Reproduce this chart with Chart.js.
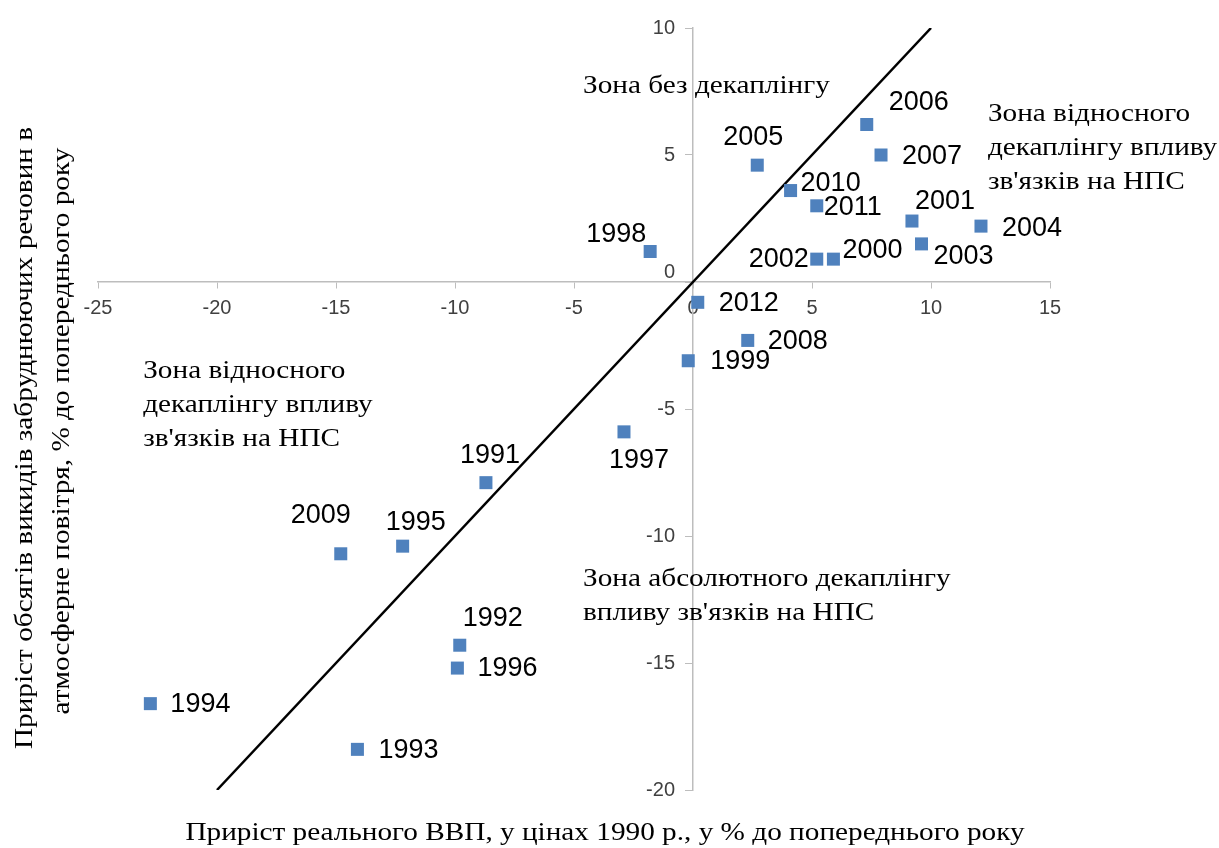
<!DOCTYPE html>
<html>
<head>
<meta charset="utf-8">
<script src="https://cdn.jsdelivr.net/npm/chart.js@4.4.1/dist/chart.umd.min.js"></script>
<style>
html,body{margin:0;padding:0;background:#fff;}
#wrap{width:1219px;height:848px;position:relative;}
</style>
</head>
<body>
<div id="wrap"><canvas id="c" width="1219" height="848"></canvas></div>
<script>
// ---- data ----
const years = ['1991','1992','1993','1994','1995','1996','1997','1998','1999','2000','2001','2002','2003','2004','2005','2006','2007','2008','2009','2010','2011','2012'];
const gdpGrowth = [-8.7,-9.8,-14.1,-22.8,-12.2,-9.9,-2.9,-1.8,-0.2,5.9,9.2,5.2,9.6,12.1,2.7,7.3,7.9,2.3,-14.8,4.1,5.2,0.2];
const emissionGrowth = [-7.9,-14.3,-18.4,-16.6,-10.4,-15.2,-5.9,1.2,-3.1,0.9,2.4,0.9,1.5,2.2,4.6,6.2,5.0,-2.3,-10.7,3.6,3.0,-0.8];
const lineX = [-20, 10];
const lineY = [-20, 10];
const xTitle = 'Приріст реального ВВП, у цінах 1990 р., у % до попереднього року';
const yTitle = ['Приріст обсягів викидів забруднюючих речовин в', 'атмосферне повітря, % до попереднього року'];
const zoneText = [
  ['Зона без декаплінгу'],
  ['Зона відносного', 'декаплінгу впливу', "зв'язків на НПС"],
  ['Зона відносного', 'декаплінгу впливу', "зв'язків на НПС"],
  ['Зона абсолютного декаплінгу', "впливу зв'язків на НПС"]
];
// anchor of each zone text block, in axis units
const zoneAnchorX = [-4.62, 12.39, -23.1, -4.62];
const zoneAnchorY = [7.44, 6.34, -3.78, -11.97];

// label placement (pixel offsets of label left edge / middle from the point)
const labelOffsets = {
  '1991':[-26,-27],'1992':[3,-27],'1993':[21,1],'1994':[20,1],'1995':[-17,-24],'1996':[20,0],
  '1997':[-15,29],'1998':[-64,-17],'1999':[22,1],'2000':[9,-9],'2001':[3,-19],'2002':[-68,0],
  '2003':[12,13],'2004':[21,2],'2005':[-34,-28],'2006':[22,-22],'2007':[21,2],'2008':[20,1],
  '2009':[-50,-38],'2010':[10,-7],'2011':[7,2],'2012':[21,1]
};

const points = years.map((yr, i) => ({x: gdpGrowth[i], y: emissionGrowth[i]}));
const linePts = lineX.map((v, i) => ({x: v, y: lineY[i]}));

const SERIF = '26px "Liberation Serif", "Times New Roman", serif';
const STRETCH = 1.125;
const TICKFONT = '20px "Liberation Sans", Arial, sans-serif';

function stretchedText(ctx, t, x, y, align) {
  ctx.save();
  ctx.translate(x, y);
  ctx.scale(STRETCH, 1);
  ctx.textAlign = align;
  ctx.fillText(t, 0, 0);
  ctx.restore();
}

const annotPlugin = {
  id: 'annot',
  afterDatasetsDraw(chart) {
    const ctx = chart.ctx;
    const xs = chart.scales.x, ys = chart.scales.y;
    const axisX = xs.getPixelForValue(0);
    ctx.save();
    // y tick labels
    ctx.fillStyle = '#404040';
    ctx.font = TICKFONT;
    ctx.textAlign = 'right';
    ctx.textBaseline = 'middle';
    ys.ticks.forEach(t => {
      const py = ys.getPixelForValue(t.value) + (t.value === 0 ? -10 : 0);
      ctx.fillText(String(t.value), axisX - 18, py);
    });
    // year labels
    ctx.fillStyle = '#000';
    ctx.font = '27px "Liberation Sans", Arial, sans-serif';
    ctx.textAlign = 'left';
    ctx.textBaseline = 'middle';
    const meta = chart.getDatasetMeta(0);
    meta.data.forEach((el, i) => {
      const off = labelOffsets[years[i]] || [12, 0];
      ctx.fillText(years[i], el.x + off[0], el.y + off[1]);
    });
    // zone texts
    ctx.font = SERIF;
    ctx.textBaseline = 'alphabetic';
    zoneText.forEach((lines, zi) => {
      const px = xs.getPixelForValue(zoneAnchorX[zi]), py = ys.getPixelForValue(zoneAnchorY[zi]);
      lines.forEach((t, k) => stretchedText(ctx, t, px, py + k * 34, 'left'));
    });
    // axis titles
    ctx.textBaseline = 'middle';
    stretchedText(ctx, xTitle, 605, 833, 'center');
    ctx.save();
    ctx.translate(25, 438);
    ctx.rotate(-Math.PI / 2);
    stretchedText(ctx, yTitle[0], 0, 0, 'center');
    ctx.restore();
    ctx.save();
    ctx.translate(62, 431);
    ctx.rotate(-Math.PI / 2);
    stretchedText(ctx, yTitle[1], 0, 0, 'center');
    ctx.restore();
    ctx.restore();
  }
};

new Chart(document.getElementById('c'), {
  type: 'scatter',
  data: {
    datasets: [
      {
        data: points,
        pointStyle: 'rect',
        pointRadius: 9.2,
        pointHoverRadius: 9.2,
        backgroundColor: '#4f81bd',
        borderColor: '#4f81bd',
        borderWidth: 0
      },
      {
        data: linePts,
        showLine: true,
        borderColor: '#000',
        borderWidth: 2.5,
        pointRadius: 0,
        fill: false
      }
    ]
  },
  options: {
    responsive: false,
    animation: false,
    events: [],
    layout: {padding: {left: 98, right: 169, top: 28, bottom: 58}},
    plugins: {legend: {display: false}, tooltip: {enabled: false}},
    scales: {
      x: {
        type: 'linear',
        min: -25, max: 15,
        position: {y: 0},
        afterFit: s => { s.height = 0; },
        grid: {display: true, drawOnChartArea: false, drawTicks: true, tickLength: 6, color: '#bdbdbd'},
        border: {display: true, color: '#bdbdbd', width: 1.5},
        ticks: {stepSize: 5, padding: 8, color: '#404040', font: {family: '"Liberation Sans", Arial, sans-serif', size: 20}, maxRotation: 0}
      },
      y: {
        type: 'linear',
        min: -20, max: 10,
        position: {x: 0},
        afterFit: s => { s.width = 0; },
        grid: {display: true, drawOnChartArea: false, drawTicks: true, tickLength: 7, color: '#bdbdbd'},
        border: {display: true, color: '#bdbdbd', width: 1.5},
        ticks: {display: false, stepSize: 5}
      }
    }
  },
  plugins: [annotPlugin]
});
</script>
</body>
</html>
